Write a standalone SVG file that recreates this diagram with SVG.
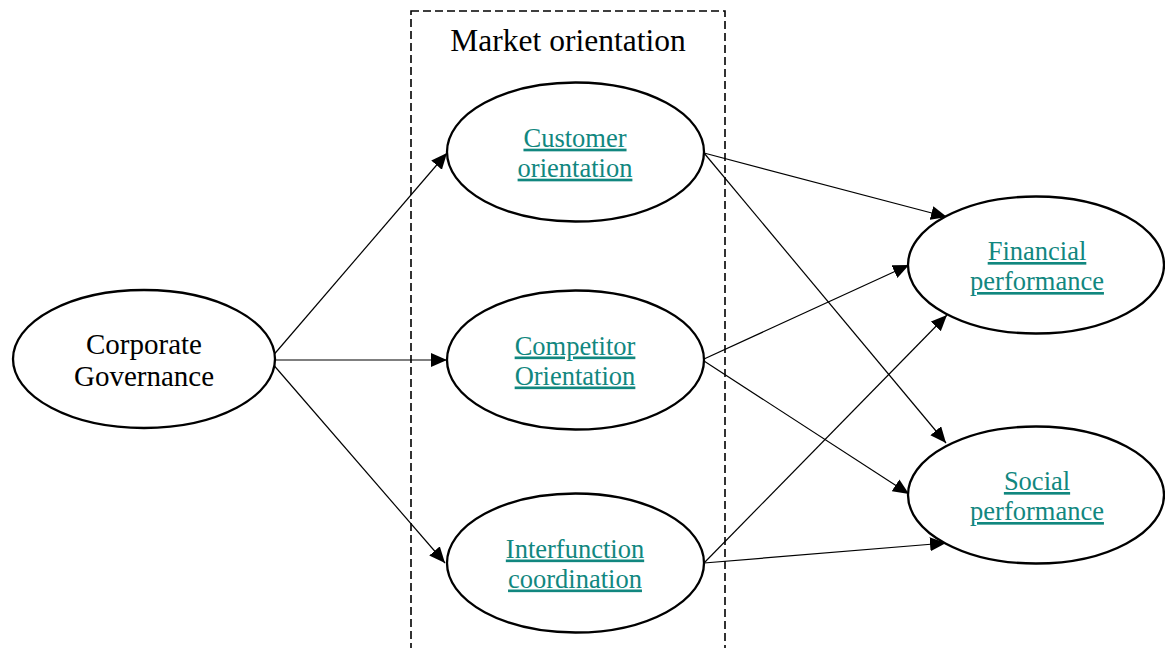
<svg xmlns="http://www.w3.org/2000/svg" width="1165" height="648" viewBox="0 0 1165 648">
<style>
.node ellipse{fill:#fff;stroke:#000;stroke-width:2.3}
.lbl{font-family:"Liberation Serif","Times New Roman",serif;font-size:26.5px;fill:#11877f;text-anchor:middle;text-decoration:underline}
.blk{font-family:"Liberation Serif","Times New Roman",serif;fill:#000;text-anchor:middle}
.conn line{stroke:#000;stroke-width:1.2;marker-end:url(#ah)}
</style>
<defs>
<marker id="ah" markerUnits="userSpaceOnUse" markerWidth="17" markerHeight="15" refX="16" refY="7" orient="auto" viewBox="0 0 17 15">
<path d="M0,0 L16,7 L0,14 Z" fill="#000"/>
</marker>
</defs>
<rect width="1165" height="648" fill="#fff"/>
<g id="market-orientation">
<rect x="411" y="11" width="314" height="660" fill="none" stroke="#000" stroke-width="1.6" stroke-dasharray="8 4"/>
<text class="blk" x="568" y="50.5" font-size="31.5">Market orientation</text>
</g>
<g class="conn" id="connectors">
<line x1="271" y1="358" x2="447" y2="153"/>
<line x1="271" y1="360" x2="447" y2="360"/>
<line x1="271" y1="362" x2="445" y2="563"/>
<line x1="704" y1="153" x2="947" y2="217"/>
<line x1="704" y1="153" x2="946" y2="443"/>
<line x1="704" y1="359" x2="909" y2="265"/>
<line x1="704" y1="361" x2="909" y2="494"/>
<line x1="704" y1="563" x2="947" y2="315"/>
<line x1="704" y1="563" x2="946" y2="543"/>
</g>
<g class="node" id="corporate-governance">
<ellipse cx="144" cy="359" rx="131" ry="69"/>
<text class="blk" x="144" y="353.5" font-size="29">Corporate</text>
<text class="blk" x="144" y="386" font-size="29">Governance</text>
</g>
<g class="node" id="customer-orientation">
<ellipse cx="575.5" cy="152" rx="128.5" ry="69.5"/>
<text class="lbl" x="575" y="146.7">Customer</text>
<text class="lbl" x="575" y="176.7">orientation</text>
</g>
<g class="node" id="competitor-orientation">
<ellipse cx="575.5" cy="360" rx="128.5" ry="69.5"/>
<text class="lbl" x="575" y="354.5">Competitor</text>
<text class="lbl" x="575" y="384.5">Orientation</text>
</g>
<g class="node" id="interfunction-coordination">
<ellipse cx="575.5" cy="563" rx="128.5" ry="69.5"/>
<text class="lbl" x="575" y="557.5">Interfunction</text>
<text class="lbl" x="575" y="587.5">coordination</text>
</g>
<g class="node" id="financial-performance">
<ellipse cx="1036" cy="265" rx="128" ry="68.5"/>
<text class="lbl" x="1037" y="260">Financial</text>
<text class="lbl" x="1037" y="290">performance</text>
</g>
<g class="node" id="social-performance">
<ellipse cx="1036" cy="495" rx="128" ry="68.5"/>
<text class="lbl" x="1037" y="490">Social</text>
<text class="lbl" x="1037" y="520">performance</text>
</g>
</svg>
